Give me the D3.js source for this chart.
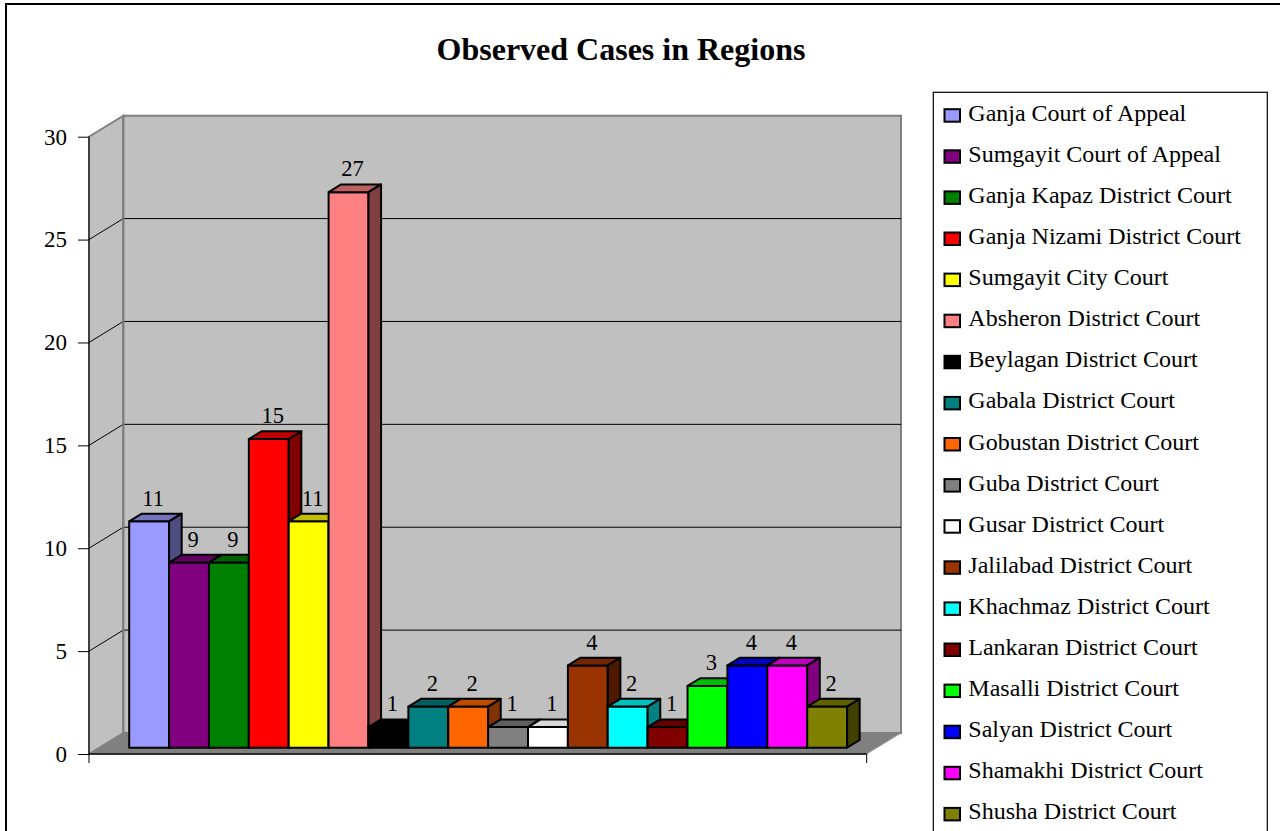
<!DOCTYPE html>
<html>
<head>
<meta charset="utf-8">
<script src="https://cdn.jsdelivr.net/npm/d3@7"></script>
<style>
  html, body { margin: 0; padding: 0; background: #ffffff; }
  svg { display: block; }
  text { font-family: "Liberation Serif", "Times New Roman", serif; fill: #000; }
</style>
</head>
<body>
<svg id="chart" width="1280" height="831"></svg>
<script>
// ---------------- DATA ----------------
const title = "Observed Cases in Regions";
const courts = [
  "Ganja Court of Appeal",
  "Sumgayit Court of Appeal",
  "Ganja Kapaz District Court",
  "Ganja Nizami District Court",
  "Sumgayit City Court",
  "Absheron District Court",
  "Beylagan District Court",
  "Gabala District Court",
  "Gobustan District Court",
  "Guba District Court",
  "Gusar District Court",
  "Jalilabad District Court",
  "Khachmaz District Court",
  "Lankaran District Court",
  "Masalli District Court",
  "Salyan District Court",
  "Shamakhi District Court",
  "Shusha District Court"
];
const cases = [11, 9, 9, 15, 11, 27, 1, 2, 2, 1, 1, 4, 2, 1, 3, 4, 4, 2];
const colors = [
  "#9999FF", "#800080", "#008000", "#FF0000", "#FFFF00", "#FF8080",
  "#000000", "#008080", "#FF6600", "#808080", "#FFFFFF", "#993300",
  "#00FFFF", "#800000", "#00FF00", "#0000FF", "#FF00FF", "#808000"
];
const yTicks = [0, 5, 10, 15, 20, 25, 30];

// ---------------- LAYOUT ----------------
const svg = d3.select("#chart");
const W = 1280, H = 831;

// outer frame
svg.append("rect")
  .attr("x", 6).attr("y", 4).attr("width", W + 20).attr("height", H + 20)
  .attr("fill", "#fff").attr("stroke", "#000").attr("stroke-width", 2);

// title
svg.append("text")
  .attr("x", 621).attr("y", 60)
  .attr("text-anchor", "middle")
  .attr("font-size", 32).attr("font-weight", "bold")
  .text(title);

// plot geometry (front plane)
const frontLeft = 89, frontRight = 866.7;
const y = d3.scaleLinear().domain([0, 30]).range([754, 136.7]);
const x = d3.scaleBand().domain(courts).range([frontLeft, frontRight])
  .paddingInner(0).paddingOuter(0.75);

// depth projection: wall depth
const DX = 34.3, DY = -21;
const proj = (px, py, t) => [px + DX * t, py + DY * t];
const barT0 = 0.3, barT1 = 0.667;

const y0 = y(0), yTop = y(30);

// floor
const floor = [proj(frontLeft, y0, 0), proj(frontRight, y0, 0), proj(frontRight, y0, 1), proj(frontLeft, y0, 1)];
svg.append("polygon")
  .attr("points", floor.map(p => p.join(",")).join(" "))
  .attr("fill", "#808080").attr("stroke", "#a0a0a0").attr("stroke-width", 1);

// side wall (left)
const side = [proj(frontLeft, y0, 0), proj(frontLeft, y0, 1), proj(frontLeft, yTop, 1), proj(frontLeft, yTop, 0)];
svg.append("polygon")
  .attr("points", side.map(p => p.join(",")).join(" "))
  .attr("fill", "#c0c0c0").attr("stroke", "#808080").attr("stroke-width", 2);

// back wall
const back = [proj(frontLeft, y0, 1), proj(frontRight, y0, 1), proj(frontRight, yTop, 1), proj(frontLeft, yTop, 1)];
svg.append("polygon")
  .attr("points", back.map(p => p.join(",")).join(" "))
  .attr("fill", "#c0c0c0").attr("stroke", "#808080").attr("stroke-width", 2);

// gridlines
const grid = svg.append("g");
yTicks.filter(v => v > 0 && v < 30).forEach(v => {
  const a = proj(frontLeft, y(v), 0), b = proj(frontLeft, y(v), 1), c = proj(frontRight, y(v), 1);
  grid.append("polyline")
    .attr("points", [a, b, c].map(p => p.join(",")).join(" "))
    .attr("fill", "none").attr("stroke", "#000").attr("stroke-width", 1);
});

// redraw back-wall left edge over gridlines
svg.append("line")
  .attr("x1", proj(frontLeft, y0, 1)[0]).attr("y1", proj(frontLeft, y0, 1)[1])
  .attr("x2", proj(frontLeft, yTop, 1)[0]).attr("y2", proj(frontLeft, yTop, 1)[1])
  .attr("stroke", "#808080").attr("stroke-width", 2);

// y axis
const yAxis = d3.axisLeft(y).tickValues(yTicks).tickSize(11).tickPadding(11).tickFormat(d3.format("d"));
const gy = svg.append("g").attr("transform", `translate(${frontLeft},0)`).call(yAxis);
gy.select(".domain").remove();
gy.selectAll("line").attr("stroke", "#000");
gy.selectAll("text").attr("font-size", 23).attr("font-family", "Liberation Serif, Times New Roman, serif").attr("fill", "#000");
svg.append("line")
  .attr("x1", frontLeft).attr("x2", frontLeft).attr("y1", yTop).attr("y2", y0 + 9)
  .attr("stroke", "#000").attr("stroke-width", 1);

// x axis (floor front line with edge ticks)
svg.append("line")
  .attr("x1", frontLeft).attr("x2", frontRight).attr("y1", y0).attr("y2", y0)
  .attr("stroke", "#000").attr("stroke-width", 1.5);
svg.append("line")
  .attr("x1", frontRight).attr("x2", frontRight).attr("y1", y0).attr("y2", y0 + 9)
  .attr("stroke", "#000").attr("stroke-width", 1);

// bars
const shade = (c, k) => {
  const r = d3.rgb(c);
  return d3.rgb(r.r * k, r.g * k, r.b * k).formatHex();
};
const bars = svg.append("g");
const bw = x.bandwidth();
const tdx = DX * (barT1 - barT0), tdy = DY * (barT1 - barT0);
courts.forEach((name, i) => {
  const v = cases[i];
  const [fx, fyb] = proj(x(name), y0, barT0);
  const fyt = proj(x(name), y(v), barT0)[1];
  const g = bars.append("g");
  // front
  g.append("rect")
    .attr("x", fx).attr("y", fyt).attr("width", bw).attr("height", fyb - fyt)
    .attr("fill", colors[i]).attr("stroke", "#000").attr("stroke-width", 2)
    .attr("stroke-linejoin", "round");
  // top
  const top = [[fx, fyt], [fx + bw, fyt], [fx + bw + tdx, fyt + tdy], [fx + tdx, fyt + tdy]];
  g.append("polygon")
    .attr("points", top.map(p => p.join(",")).join(" "))
    .attr("fill", colors[i] === "#FFFFFF" ? "#d8d8d8" : shade(colors[i], 0.75))
    .attr("stroke", "#000").attr("stroke-width", 2).attr("stroke-linejoin", "round");
  // side
  const sd = [[fx + bw, fyt], [fx + bw + tdx, fyt + tdy], [fx + bw + tdx, fyb + tdy], [fx + bw, fyb]];
  g.append("polygon")
    .attr("points", sd.map(p => p.join(",")).join(" "))
    .attr("fill", colors[i] === "#FFFFFF" ? "#a0a0a0" : shade(colors[i], 0.5))
    .attr("stroke", "#000").attr("stroke-width", 2).attr("stroke-linejoin", "round");
});

// data labels
courts.forEach((name, i) => {
  const v = cases[i];
  const [fx, fyt] = proj(x(name), y(v), barT0);
  svg.append("text")
    .attr("x", fx + bw / 2 + 4)
    .attr("y", fyt + tdy - 8)
    .attr("text-anchor", "middle")
    .attr("font-size", 22.5)
    .text(v);
});

// legend
const legX = 933.3, legY = 92.3, rowH = 41.1, base0 = 120.7;
svg.append("rect")
  .attr("x", legX).attr("y", legY).attr("width", 334).attr("height", 800)
  .attr("fill", "#fff").attr("stroke", "#000").attr("stroke-width", 1.2);
const leg = svg.append("g");
courts.forEach((name, i) => {
  const by = base0 + i * rowH;
  leg.append("rect")
    .attr("x", 944.5).attr("y", by - 11.5).attr("width", 15.5).attr("height", 12.5)
    .attr("fill", colors[i]).attr("stroke", "#000").attr("stroke-width", 2);
  leg.append("text")
    .attr("x", 968.3).attr("y", by)
    .attr("font-size", 24)
    .text(name);
});
</script>
</body>
</html>
